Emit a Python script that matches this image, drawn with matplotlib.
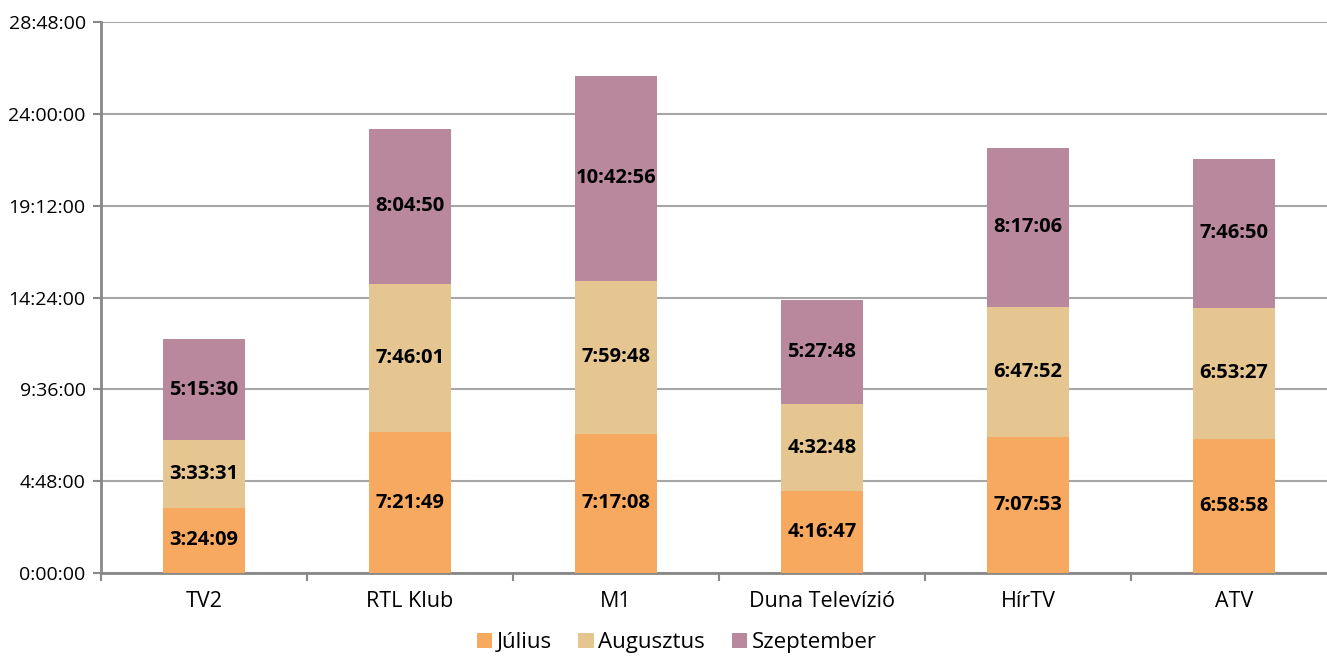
import matplotlib
matplotlib.use('Agg')
import matplotlib.pyplot as plt
from matplotlib.ticker import FixedLocator, FuncFormatter

plt.rcParams['font.family'] = ['Open Sans', 'DejaVu Sans']

csatornak = ['TV2', 'RTL Klub', 'M1', 'Duna Televízió', 'HírTV', 'ATV']
julius = ['3:24:09', '7:21:49', '7:17:08', '4:16:47', '7:07:53', '6:58:58']
augusztus = ['3:33:31', '7:46:01', '7:59:48', '4:32:48', '6:47:52', '6:53:27']
szeptember = ['5:15:30', '8:04:50', '10:42:56', '5:27:48', '8:17:06', '7:46:50']
honapok = ['Július', 'Augusztus', 'Szeptember']
szinek = ['#F7A95F', '#E5C690', '#B9889C']


def masodperc(s):
    h, m, sec = s.split(':')
    return int(h) * 3600 + int(m) * 60 + int(sec)


def idoformat(v, pos=None):
    v = int(round(v))
    return '%d:%02d:%02d' % (v // 3600, (v % 3600) // 60, v % 60)


fig = plt.figure(figsize=(13.27, 6.59), dpi=100)
ax = fig.add_axes([0.0761, 0.1305, 0.9314, 0.8361])

x = range(len(csatornak))
alap = [0] * len(csatornak)
for nev, adat, szin in zip(honapok, [julius, augusztus, szeptember], szinek):
    ertek = [masodperc(s) for s in adat]
    ax.bar(x, ertek, 0.4, bottom=alap, color=szin, label=nev, zorder=3)
    for i in x:
        ax.text(i, alap[i] + ertek[i] / 2, adat[i], ha='center', va='center',
                fontsize=14.5, fontweight='bold', color='black', zorder=4)
    alap = [a + e for a, e in zip(alap, ertek)]

lepes = 17280
ax.set_ylim(0, 6 * lepes)
ax.set_yticks([i * lepes for i in range(7)])
ax.yaxis.set_major_formatter(FuncFormatter(idoformat))
ax.set_xlim(-0.5, 5.5)
ax.set_xticks(list(x))
ax.set_xticklabels(csatornak, fontsize=15.5)
ax.xaxis.set_minor_locator(FixedLocator([i + 0.5 for i in range(-1, 6)]))
ax.tick_params(axis='x', which='major', length=0, pad=13)
ax.tick_params(axis='x', which='minor', length=6, width=1.5, color='#888888')
ax.tick_params(axis='y', length=6, width=1.5, color='#888888', labelsize=14, pad=5)

ax.grid(axis='y', color='#A6A6A6', linewidth=1.5, zorder=0)
for s in ['top', 'right']:
    ax.spines[s].set_visible(False)
for s in ['left', 'bottom']:
    ax.spines[s].set_color('#888888')
    ax.spines[s].set_linewidth(2)

fig.legend(loc='lower center', bbox_to_anchor=(0.51, -0.022), ncol=3, frameon=False,
           fontsize=16, handlelength=0.7, handleheight=0.7, handletextpad=0.2,
           columnspacing=1.2)

fig.savefig('out.png', dpi=100)
